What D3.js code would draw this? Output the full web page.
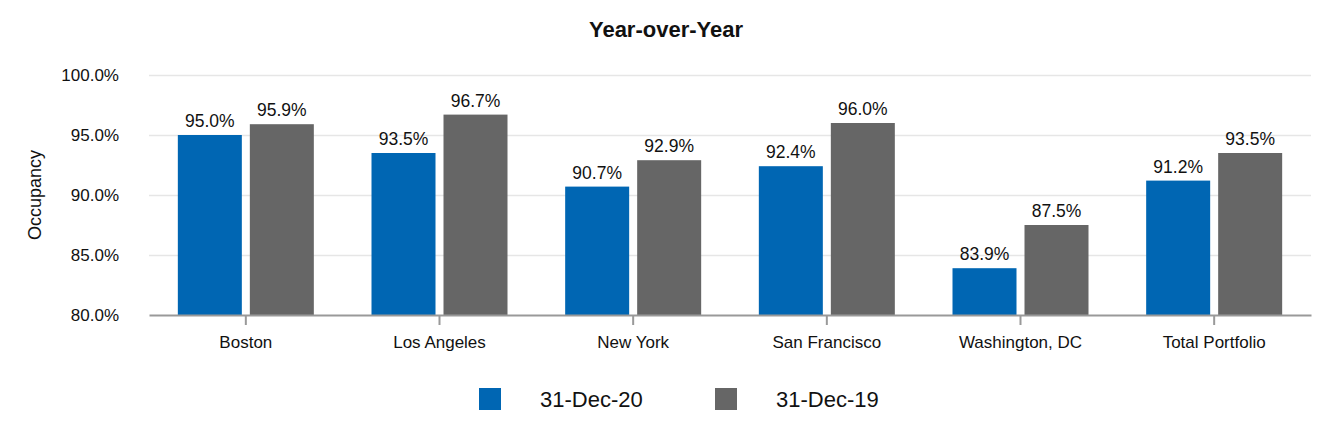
<!DOCTYPE html>
<html>
<head>
  <meta charset="utf-8">
  <title>Year-over-Year Occupancy</title>
  <script src="https://d3js.org/d3.v7.min.js"></script>
  <style>
    body {
      margin: 0;
      background: #fff;
      font-family: "Liberation Sans", Arial, sans-serif;
    }
    .grid line { stroke: #e6e6e6; stroke-width: 1.5; }
    .grid path { display: none; }
    .ytick text { font-size: 17px; fill: #111; }
    .xaxis text { font-size: 17px; fill: #111; font-family: "Liberation Sans", Arial, sans-serif; }
    .xaxis path, .xaxis line { stroke: #999; stroke-width: 2; }
  </style>
</head>
<body>
  <div id="chart"></div>
  <script>
    // data
    const cities = ["Boston", "Los Angeles", "New York", "San Francisco", "Washington, DC", "Total Portfolio"];
    const dec20 = [95.0, 93.5, 90.7, 92.4, 83.9, 91.2];
    const dec19 = [95.9, 96.7, 92.9, 96.0, 87.5, 93.5];
    const seriesNames = ["31-Dec-20", "31-Dec-19"];
    const colors = ["#0066b3", "#666666"];
    const yTicks = [80, 85, 90, 95, 100];

    const width = 1332, height = 440;
    const margin = { top: 75, right: 21, bottom: 125, left: 149 };

    const svg = d3.select("#chart").append("svg")
      .attr("width", width)
      .attr("height", height);

    const x = d3.scaleBand()
      .domain(cities)
      .range([margin.left, width - margin.right]);

    const y = d3.scaleLinear()
      .domain([80, 100])
      .range([height - margin.bottom, margin.top]);

    const barW = 64, gap = 8;
    const sub = d3.scaleOrdinal().domain([0, 1]).range([-gap / 2 - barW, gap / 2]);

    // gridlines
    svg.append("g")
      .attr("class", "grid")
      .attr("transform", `translate(${margin.left},0)`)
      .call(d3.axisLeft(y).tickValues(yTicks.slice(1)).tickSize(-(width - margin.left - margin.right)).tickFormat(""));

    // y tick labels
    svg.append("g")
      .attr("class", "ytick")
      .selectAll("text")
      .data(yTicks)
      .join("text")
      .attr("x", 119)
      .attr("y", d => y(d))
      .attr("dy", "0.35em")
      .attr("text-anchor", "end")
      .text(d => d.toFixed(1) + "%");

    svg.append("text")
      .attr("transform", `translate(41,${y(90)}) rotate(-90)`)
      .attr("text-anchor", "middle")
      .style("font-size", "18px")
      .attr("fill", "#111")
      .text("Occupancy");

    // bars
    const rows = cities.map((c, i) => ({ city: c, vals: [dec20[i], dec19[i]] }));
    const groups = svg.append("g").selectAll("g")
      .data(rows)
      .join("g")
      .attr("transform", d => `translate(${x(d.city) + x.bandwidth() / 2},0)`);

    groups.selectAll("rect")
      .data(d => d.vals.map((v, k) => ({ v, k })))
      .join("rect")
      .attr("x", d => sub(d.k))
      .attr("width", barW)
      .attr("y", d => y(d.v))
      .attr("height", d => y(80) - y(d.v))
      .attr("fill", d => colors[d.k]);

    groups.selectAll("text.val")
      .data(d => d.vals.map((v, k) => ({ v, k })))
      .join("text")
      .attr("class", "val")
      .attr("x", d => sub(d.k) + barW / 2)
      .attr("y", d => y(d.v) - 8)
      .attr("text-anchor", "middle")
      .style("font-size", "17.5px")
      .attr("fill", "#111")
      .text(d => d.v.toFixed(1) + "%");

    // x axis
    svg.append("g")
      .attr("class", "xaxis")
      .attr("transform", `translate(0,${y(80)})`)
      .call(d3.axisBottom(x).tickSizeInner(10).tickSizeOuter(0).tickPadding(11));

    // title
    svg.append("text")
      .attr("x", width / 2)
      .attr("y", 37)
      .attr("text-anchor", "middle")
      .style("font-size", "22px")
      .style("font-weight", "bold")
      .attr("fill", "#111")
      .text("Year-over-Year");

    // legend
    const legendX = [479, 715];
    const legend = svg.append("g").selectAll("g")
      .data(seriesNames)
      .join("g")
      .attr("transform", (d, i) => `translate(${legendX[i]},388)`);
    legend.append("rect")
      .attr("width", 22)
      .attr("height", 22)
      .attr("fill", (d, i) => colors[i]);
    legend.append("text")
      .attr("x", 61)
      .attr("y", 11)
      .attr("dy", "0.35em")
      .style("font-size", "22px")
      .attr("fill", "#111")
      .text(d => d);
  </script>
</body>
</html>
